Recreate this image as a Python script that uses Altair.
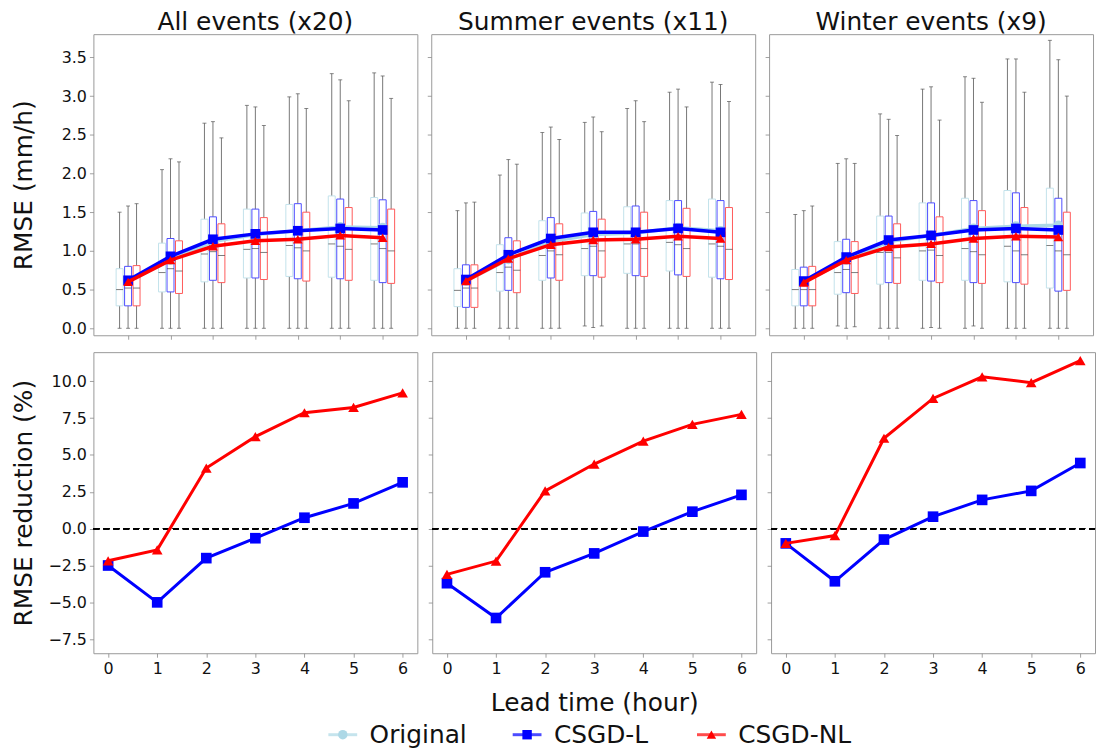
import altair as alt
import pandas as pd

FONT = "DejaVu Sans"

leads = [0, 1, 2, 3, 4, 5, 6]
methods = ["Original", "CSGD-L", "CSGD-NL"]
panel_titles = ["All events (x20)", "Summer events (x11)", "Winter events (x9)"]

# ---------------- All events: box statistics (RMSE, mm/h) ----------------
all_orig_lo = [0.0, 0.0, 0.0, 0.0, 0.0, 0.0, 0.0]
all_orig_q1 = [0.29, 0.47, 0.60, 0.65, 0.67, 0.66, 0.62]
all_orig_med = [0.50, 0.72, 0.96, 1.02, 1.07, 1.09, 1.09]
all_orig_q3 = [0.77, 1.10, 1.41, 1.54, 1.60, 1.71, 1.69]
all_orig_hi = [1.50, 2.05, 2.65, 2.88, 2.99, 3.29, 3.30]

all_l_lo = [0.0, 0.0, 0.0, 0.0, 0.0, 0.0, 0.0]
all_l_q1 = [0.29, 0.47, 0.62, 0.65, 0.64, 0.64, 0.59]
all_l_med = [0.52, 0.77, 0.99, 1.03, 1.04, 1.06, 1.03]
all_l_q3 = [0.80, 1.16, 1.44, 1.54, 1.61, 1.67, 1.66]
all_l_hi = [1.58, 2.19, 2.67, 2.86, 3.03, 3.21, 3.26]

all_nl_lo = [0.0, 0.0, 0.0, 0.0, 0.0, 0.0, 0.0]
all_nl_q1 = [0.29, 0.45, 0.59, 0.63, 0.61, 0.62, 0.58]
all_nl_med = [0.52, 0.74, 0.94, 0.98, 1.00, 1.02, 1.00]
all_nl_q3 = [0.81, 1.13, 1.35, 1.43, 1.50, 1.56, 1.54]
all_nl_hi = [1.61, 2.15, 2.46, 2.62, 2.84, 2.94, 2.97]

# ---------------- Summer events ----------------
sum_orig_lo = [0.0, 0.0, 0.0, 0.03, 0.0, 0.0, 0.0]
sum_orig_q1 = [0.28, 0.48, 0.62, 0.68, 0.71, 0.74, 0.66]
sum_orig_med = [0.49, 0.72, 0.94, 1.03, 1.09, 1.11, 1.09]
sum_orig_q3 = [0.77, 1.08, 1.39, 1.49, 1.57, 1.65, 1.67]
sum_orig_hi = [1.52, 1.98, 2.53, 2.66, 2.84, 3.05, 3.18]

sum_l_lo = [0.0, 0.0, 0.0, 0.01, 0.0, 0.0, 0.0]
sum_l_q1 = [0.27, 0.49, 0.65, 0.68, 0.68, 0.69, 0.64]
sum_l_med = [0.52, 0.79, 1.00, 1.06, 1.09, 1.08, 1.06]
sum_l_q3 = [0.82, 1.17, 1.43, 1.51, 1.58, 1.65, 1.65]
sum_l_hi = [1.62, 2.18, 2.60, 2.73, 2.94, 3.09, 3.15]

sum_nl_lo = [0.0, 0.0, 0.0, 0.03, 0.0, 0.0, 0.0]
sum_nl_q1 = [0.27, 0.46, 0.62, 0.66, 0.67, 0.67, 0.63]
sum_nl_med = [0.52, 0.75, 0.95, 1.00, 1.03, 1.03, 1.02]
sum_nl_q3 = [0.82, 1.13, 1.35, 1.41, 1.50, 1.55, 1.56]
sum_nl_hi = [1.63, 2.12, 2.44, 2.54, 2.67, 2.86, 2.93]

# ---------------- Winter events ----------------
win_orig_lo = [0.0, 0.03, 0.0, 0.0, 0.0, 0.0, 0.0]
win_orig_q1 = [0.29, 0.44, 0.57, 0.62, 0.62, 0.60, 0.52]
win_orig_med = [0.50, 0.72, 0.98, 1.00, 1.03, 1.06, 1.07]
win_orig_q3 = [0.76, 1.12, 1.45, 1.62, 1.68, 1.78, 1.81]
win_orig_hi = [1.47, 2.13, 2.77, 3.09, 3.25, 3.48, 3.72]

win_l_lo = [0.0, 0.0, 0.0, 0.01, 0.03, 0.0, 0.0]
win_l_q1 = [0.29, 0.46, 0.59, 0.61, 0.59, 0.59, 0.48]
win_l_med = [0.50, 0.76, 0.98, 1.01, 0.99, 1.00, 1.00]
win_l_q3 = [0.79, 1.15, 1.45, 1.62, 1.65, 1.75, 1.68]
win_l_hi = [1.52, 2.19, 2.70, 3.12, 3.23, 3.48, 3.47]

win_nl_lo = [0.0, 0.02, 0.0, 0.0, 0.0, 0.0, 0.0]
win_nl_q1 = [0.29, 0.45, 0.58, 0.59, 0.58, 0.57, 0.49]
win_nl_med = [0.50, 0.72, 0.91, 0.94, 0.95, 0.95, 0.95]
win_nl_q3 = [0.80, 1.12, 1.35, 1.44, 1.52, 1.56, 1.50]
win_nl_hi = [1.58, 2.13, 2.49, 2.69, 2.92, 3.05, 3.00]

# ---------------- Mean RMSE (lines in top row) ----------------
all_orig_mean = [0.61, 0.88, 1.12, 1.21, 1.26, 1.31, 1.30]
all_l_mean = [0.62, 0.93, 1.15, 1.22, 1.26, 1.29, 1.27]
all_nl_mean = [0.60, 0.88, 1.06, 1.13, 1.15, 1.20, 1.17]

sum_orig_mean = [0.61, 0.89, 1.12, 1.21, 1.23, 1.30, 1.26]
sum_l_mean = [0.63, 0.95, 1.16, 1.24, 1.24, 1.29, 1.24]
sum_nl_mean = [0.61, 0.90, 1.08, 1.14, 1.15, 1.19, 1.16]

win_orig_mean = [0.60, 0.88, 1.12, 1.20, 1.29, 1.32, 1.33]
win_l_mean = [0.61, 0.92, 1.14, 1.20, 1.27, 1.29, 1.27]
win_nl_mean = [0.59, 0.88, 1.05, 1.09, 1.16, 1.19, 1.18]

# ---------------- RMSE reduction (%) (bottom row) ----------------
all_l_red = [-2.5, -5.0, -2.0, -0.65, 0.74, 1.71, 3.14]
all_nl_red = [-2.18, -1.44, 4.11, 6.24, 7.86, 8.22, 9.21]
sum_l_red = [-3.7, -6.06, -2.96, -1.68, -0.2, 1.15, 2.29]
sum_nl_red = [-3.1, -2.2, 2.56, 4.38, 5.93, 7.07, 7.75]
win_l_red = [-1.0, -3.57, -0.74, 0.81, 1.95, 2.56, 4.45]
win_nl_red = [-1.0, -0.47, 6.13, 8.83, 10.3, 9.9, 11.4]

y_top_ticks = [0.0, 0.5, 1.0, 1.5, 2.0, 2.5, 3.0, 3.5]
y_bot_ticks = [-7.5, -5.0, -2.5, 0.0, 2.5, 5.0, 7.5, 10.0]

# ---------------- assemble tables ----------------
box_sets = {
    panel_titles[0]: {
        "Original": (all_orig_lo, all_orig_q1, all_orig_med, all_orig_q3, all_orig_hi),
        "CSGD-L": (all_l_lo, all_l_q1, all_l_med, all_l_q3, all_l_hi),
        "CSGD-NL": (all_nl_lo, all_nl_q1, all_nl_med, all_nl_q3, all_nl_hi),
    },
    panel_titles[1]: {
        "Original": (sum_orig_lo, sum_orig_q1, sum_orig_med, sum_orig_q3, sum_orig_hi),
        "CSGD-L": (sum_l_lo, sum_l_q1, sum_l_med, sum_l_q3, sum_l_hi),
        "CSGD-NL": (sum_nl_lo, sum_nl_q1, sum_nl_med, sum_nl_q3, sum_nl_hi),
    },
    panel_titles[2]: {
        "Original": (win_orig_lo, win_orig_q1, win_orig_med, win_orig_q3, win_orig_hi),
        "CSGD-L": (win_l_lo, win_l_q1, win_l_med, win_l_q3, win_l_hi),
        "CSGD-NL": (win_nl_lo, win_nl_q1, win_nl_med, win_nl_q3, win_nl_hi),
    },
}
mean_sets = {
    panel_titles[0]: {"Original": all_orig_mean, "CSGD-L": all_l_mean, "CSGD-NL": all_nl_mean},
    panel_titles[1]: {"Original": sum_orig_mean, "CSGD-L": sum_l_mean, "CSGD-NL": sum_nl_mean},
    panel_titles[2]: {"Original": win_orig_mean, "CSGD-L": win_l_mean, "CSGD-NL": win_nl_mean},
}
red_sets = {
    panel_titles[0]: {"CSGD-L": all_l_red, "CSGD-NL": all_nl_red},
    panel_titles[1]: {"CSGD-L": sum_l_red, "CSGD-NL": sum_nl_red},
    panel_titles[2]: {"CSGD-L": win_l_red, "CSGD-NL": win_nl_red},
}

box_rows, mean_rows, red_rows = [], [], []
for p in panel_titles:
    for m in methods:
        lo, q1, med, q3, hi = box_sets[p][m]
        for k, ld in enumerate(leads):
            box_rows.append(dict(panel=p, method=m, lead=ld, lo=lo[k], q1=q1[k],
                                 med=med[k], q3=q3[k], hi=hi[k]))
            mean_rows.append(dict(panel=p, method=m, lead=ld, value=mean_sets[p][m][k]))
    for m in ["CSGD-L", "CSGD-NL"]:
        for k, ld in enumerate(leads):
            red_rows.append(dict(panel=p, method=m, lead=ld, value=red_sets[p][m][k]))
box_df = pd.DataFrame(box_rows)
mean_df = pd.DataFrame(mean_rows)
red_df = pd.DataFrame(red_rows)

line_color = {"Original": "#add8e6", "CSGD-L": "#0000ff", "CSGD-NL": "#ff0000"}
box_edge = ["#c3e2eb", "#4d4dff", "#ff5a5a"]
shape_of = {"Original": "circle", "CSGD-L": "square", "CSGD-NL": "triangle-up"}
WHISK = "#555555"

offset_expr = ("datum.lead + (datum.method === 'Original' ? -0.2 : "
               "(datum.method === 'CSGD-NL' ? 0.2 : 0))")

W, H = 326, 303


def top_panel(i, title):
    first = i == 0
    xs = alt.Scale(domain=[-0.7, 6.7], nice=False, zero=False)
    ys = alt.Scale(domain=[-0.09, 3.8], nice=False, zero=False)
    xaxis = alt.Axis(values=leads, labels=False, title=None)
    if first:
        yaxis = alt.Axis(values=y_top_ticks, format=".1f", title="RMSE (mm/h)",
                         minExtent=45, maxExtent=45, titlePadding=12)
    else:
        yaxis = alt.Axis(values=y_top_ticks, labels=False, title=None)
    base = alt.Chart(box_df[box_df.panel == title]).transform_calculate(xpos=offset_expr)
    X = alt.X("xpos:Q", scale=xs, axis=xaxis)
    whisk = base.mark_rule(color=WHISK, strokeWidth=0.8).encode(
        x=X, y=alt.Y("lo:Q", scale=ys, axis=yaxis), y2="hi:Q")
    cap_hi = base.mark_tick(orient="horizontal", size=4, thickness=1, color=WHISK).encode(
        x=X, y=alt.Y("hi:Q", scale=ys, axis=yaxis))
    cap_lo = base.mark_tick(orient="horizontal", size=4, thickness=1, color=WHISK).encode(
        x=X, y=alt.Y("lo:Q", scale=ys, axis=yaxis))
    boxes = base.mark_bar(size=7, fill="white", strokeWidth=1).encode(
        x=X, y=alt.Y("q1:Q", scale=ys, axis=yaxis), y2="q3:Q",
        stroke=alt.Stroke("method:N", scale=alt.Scale(domain=methods, range=box_edge), legend=None))
    meds = base.mark_tick(orient="horizontal", size=7, thickness=1, color="#444444").encode(
        x=X, y=alt.Y("med:Q", scale=ys, axis=yaxis))
    layers = [whisk, cap_hi, cap_lo, boxes, meds]
    md = mean_df[mean_df.panel == title]
    for m in methods:
        mb = alt.Chart(md[md.method == m])
        Xm = alt.X("lead:Q", scale=xs, axis=xaxis)
        Ym = alt.Y("value:Q", scale=ys, axis=yaxis)
        layers.append(mb.mark_line(color=line_color[m], strokeWidth=3.5).encode(x=Xm, y=Ym))
        layers.append(mb.mark_point(filled=True, opacity=1, shape=shape_of[m], size=95,
                                    color=line_color[m]).encode(x=Xm, y=Ym))
    return alt.layer(*layers).properties(
        width=W, height=H,
        title=alt.Title(title, fontSize=25, font=FONT, fontWeight="normal", offset=-1))


def bottom_panel(i, title):
    first = i == 0
    xs = alt.Scale(domain=[-0.3, 6.3], nice=False, zero=False)
    ys = alt.Scale(domain=[-8.45, 11.97], nice=False, zero=False)
    if i == 1:
        xaxis = alt.Axis(values=leads, title="Lead time (hour)", titlePadding=15)
    else:
        xaxis = alt.Axis(values=leads, title=None)
    if first:
        yaxis = alt.Axis(values=y_bot_ticks, format=".1f", title="RMSE reduction (%)",
                         minExtent=45, maxExtent=45, titlePadding=12)
    else:
        yaxis = alt.Axis(values=y_bot_ticks, labels=False, title=None)
    rd = red_df[red_df.panel == title]
    zero = alt.Chart(rd).mark_rule(color="black", strokeDash=[6, 4], strokeWidth=1.3).encode(
        y=alt.Y(datum=0, scale=ys, axis=yaxis))
    layers = [zero]
    for m in ["CSGD-L", "CSGD-NL"]:
        mb = alt.Chart(rd[rd.method == m])
        Xm = alt.X("lead:Q", scale=xs, axis=xaxis)
        Ym = alt.Y("value:Q", scale=ys, axis=yaxis)
        layers.append(mb.mark_line(color=line_color[m], strokeWidth=3).encode(x=Xm, y=Ym))
        layers.append(mb.mark_point(filled=True, opacity=1, shape=shape_of[m], size=115,
                                    color=line_color[m]).encode(x=Xm, y=Ym))
    return alt.layer(*layers).properties(width=W, height=H)


top_row = alt.hconcat(*[top_panel(i, t) for i, t in enumerate(panel_titles)], spacing=8)
bot_row = alt.hconcat(*[bottom_panel(i, t) for i, t in enumerate(panel_titles)], spacing=8)
grid = alt.vconcat(top_row, bot_row, spacing=11)

# ---------------- manual legend (line + marker symbols) ----------------
leg_df = pd.DataFrame({"method": methods, "slot": list(range(len(methods)))})
LW = 1002
lx = alt.X("slot:Q", axis=None, scale=alt.Scale(domain=[-1.353, 4.049], nice=False, zero=False))
lcol = alt.Color("method:N", scale=alt.Scale(domain=methods, range=[line_color[m] for m in methods]),
                 legend=None)
leg_line = alt.Chart(leg_df).mark_tick(orient="horizontal", size=29, thickness=3).encode(
    x=lx, color=lcol)
leg_pt = alt.Chart(leg_df).mark_point(filled=True, opacity=1, size=90).encode(
    x=lx, color=lcol,
    shape=alt.Shape("method:N", scale=alt.Scale(domain=methods,
                                                range=[shape_of[m] for m in methods]), legend=None))
leg_txt = alt.Chart(leg_df).mark_text(align="left", baseline="middle", dx=27, fontSize=25,
                                      font=FONT, color="#111111").encode(x=lx, text="method:N")
legend = alt.layer(leg_line, leg_pt, leg_txt).properties(
    width=LW, height=26, view=alt.ViewBackground(strokeWidth=0))

chart = alt.vconcat(grid, legend, spacing=5).properties(
    padding={"left": 11, "top": 7, "right": 0, "bottom": 0}
).configure_view(
    stroke="#999999", strokeWidth=1
).configure_axis(
    domain=False, grid=False, tickColor="#888888", tickSize=4, tickWidth=0.8,
    labelFont=FONT, labelFontSize=16, labelColor="#111111", labelPadding=3,
    titleFont=FONT, titleFontSize=25, titleFontWeight="normal", titleColor="#111111"
).configure_title(font=FONT, fontSize=25, fontWeight="normal", color="#111111")

chart.save("out.html", embed_options={"renderer": "svg", "actions": False})
